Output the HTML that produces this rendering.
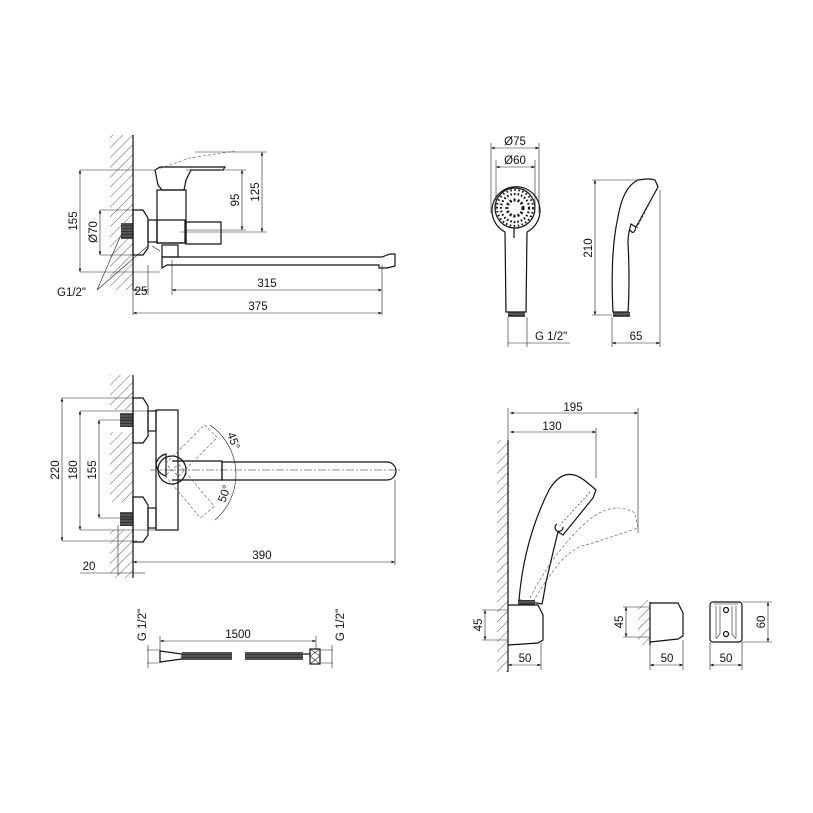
<!DOCTYPE html>
<html><head><style>
html,body{margin:0;padding:0;background:#fff;}
svg{display:block;}
text{font-family:"Liberation Sans",sans-serif;font-size:11.5px;fill:#111;}
.l{stroke:#111;stroke-width:1.2;fill:none;}
.t{stroke:#222;stroke-width:0.6;fill:none;}
.d{stroke:#555;stroke-width:0.6;fill:none;stroke-dasharray:3 2;}
</style></head><body>
<svg width="813" height="813" viewBox="0 0 813 813" xmlns="http://www.w3.org/2000/svg">
<defs>
<pattern id="h" width="7" height="7" patternUnits="userSpaceOnUse" patternTransform="rotate(45)">
<line x1="0" y1="0" x2="0" y2="7" stroke="#333" stroke-width="0.8"/></pattern>
<marker id="a" viewBox="0 0 8 6" refX="8" refY="3" markerWidth="6" markerHeight="5" orient="auto-start-reverse"><path d="M0,0L8,3L0,6z" fill="#111"/></marker>
<pattern id="th" width="3" height="3" patternUnits="userSpaceOnUse"><rect width="3" height="3" fill="#555"/><line x1="0" y1="0" x2="3" y2="0" stroke="#111" stroke-width="1"/></pattern>
</defs>

<!-- ===== Q1 faucet side ===== -->
<rect x="110" y="135" width="23" height="155" fill="url(#h)"/>
<line class="l" x1="133" y1="135" x2="133" y2="290"/>
<rect x="121" y="223" width="12" height="16" fill="url(#th)"/>
<path class="l" d="M133,210 h10 l5,8 v30 l-5,7 h-10z"/>
<rect class="l" x="148" y="220" width="9" height="22"/>
<rect class="l" x="157" y="190" width="29" height="53"/>
<path class="l" d="M157,220 h28 v23 h-28z"/>
<path class="l" d="M186,222 h35 v22 h-35z"/>
<path class="l" d="M155,170 l3,15 l4,5 h22 l2,-10 l5,-10 h32 l2,-3 h-65z"/>
<path class="d" d="M155,170 l35,-12 l45,-7"/>
<rect class="l" x="162" y="245" width="16" height="12"/>
<path class="l" d="M162,257 h220 l8,-3 h5 v12 l-8,2 h-8 v-3 h-212 l-5,3z"/>
<path class="t" d="M152,246 l8,5"/>
<!-- dims -->
<path class="t" d="M80,170 h75 M80,272 h80 M100,210 h33 M100,255 h33 M186,170 h60 M186,230 h60 M195,152 h72 M180,232 h87 M172,260 v35 M382,265 v50 M148,265 v30 M133,290 v25"/>
<line class="t" x1="80" y1="170" x2="80" y2="272" marker-start="url(#a)" marker-end="url(#a)"/>
<line class="t" x1="100" y1="210" x2="100" y2="255" marker-start="url(#a)" marker-end="url(#a)"/>
<line class="t" x1="242" y1="170" x2="242" y2="230" marker-start="url(#a)" marker-end="url(#a)"/>
<line class="t" x1="262" y1="152" x2="262" y2="232" marker-start="url(#a)" marker-end="url(#a)"/>
<line class="t" x1="172" y1="290" x2="382" y2="290" marker-start="url(#a)" marker-end="url(#a)"/>
<line class="t" x1="133" y1="290" x2="148" y2="290" marker-start="url(#a)" marker-end="url(#a)"/>
<line class="t" x1="133" y1="313" x2="382" y2="313" marker-start="url(#a)" marker-end="url(#a)"/>
<path class="t" d="M97,290 l24,-55 M97,290 l52,-45"/>
<text transform="translate(77,221) rotate(-90)" text-anchor="middle">155</text>
<text transform="translate(97,232) rotate(-90)" text-anchor="middle">Ø70</text>
<text transform="translate(239,200) rotate(-90)" text-anchor="middle">95</text>
<text transform="translate(259,192) rotate(-90)" text-anchor="middle">125</text>
<text x="267" y="287" text-anchor="middle">315</text>
<text x="141" y="295" text-anchor="middle">25</text>
<text x="258" y="310" text-anchor="middle">375</text>
<text x="57" y="296">G1/2"</text>

<!-- ===== Q2 faucet top ===== -->
<rect x="110" y="375" width="23" height="35" fill="url(#h)"/>
<rect x="110" y="432" width="23" height="70" fill="url(#h)"/>
<rect x="110" y="530" width="23" height="48" fill="url(#h)"/>
<line class="l" x1="133" y1="375" x2="133" y2="578"/>
<rect x="120" y="413" width="13" height="14" fill="url(#th)"/>
<rect x="120" y="512" width="13" height="14" fill="url(#th)"/>
<path class="l" d="M133,398 h10 l5,8 v30 l-5,7 h-10z"/>
<path class="l" d="M133,497 h10 l5,8 v30 l-5,7 h-10z"/>
<rect class="l" x="148" y="411" width="8" height="20"/>
<rect class="l" x="148" y="508" width="8" height="20"/>
<rect class="l" x="156" y="410" width="22" height="120"/>
<path class="l" d="M156,464 q2,-8 10,-10 v22 q-8,-2 -10,-12z"/>
<circle class="l" cx="172" cy="470" r="14"/>
<path class="l" d="M172,461 h50 v19 h-50"/>
<path class="l" d="M222,462 h165 a9,9 0 0 1 0,18 h-165z"/>
<g transform="rotate(-45 172 470)"><rect class="d" x="172" y="461" width="55" height="18"/></g>
<g transform="rotate(50 172 470)"><rect class="d" x="172" y="461" width="55" height="18"/></g>
<path class="t" d="M210,425 A60,60 0 0 1 215,520"/>
<path class="t" d="M150,470 h250" stroke-dasharray="8 2 2 2"/>
<path class="t" d="M62,398 h75 M80,411 h78 M99,420 h35 M99,518 h35 M80,530 h78 M62,541 h75 M395,480 v85 M118,525 v50"/>
<line class="t" x1="62" y1="398" x2="62" y2="541" marker-start="url(#a)" marker-end="url(#a)"/>
<line class="t" x1="80" y1="411" x2="80" y2="530" marker-start="url(#a)" marker-end="url(#a)"/>
<line class="t" x1="99" y1="420" x2="99" y2="518" marker-start="url(#a)" marker-end="url(#a)"/>
<line class="t" x1="133" y1="562" x2="395" y2="562" marker-start="url(#a)" marker-end="url(#a)"/>
<path class="t" d="M80,573 h53" /><line class="t" x1="133" y1="573" x2="145" y2="573"/>
<text transform="translate(59,470) rotate(-90)" text-anchor="middle">220</text>
<text transform="translate(77,470) rotate(-90)" text-anchor="middle">180</text>
<text transform="translate(96,470) rotate(-90)" text-anchor="middle">155</text>
<text transform="translate(230,442) rotate(70)" text-anchor="middle">45°</text>
<text transform="translate(228,495) rotate(-70)" text-anchor="middle">50°</text>
<text x="262" y="559" text-anchor="middle">390</text>
<text x="89" y="570" text-anchor="middle">20</text>

<!-- ===== Hose ===== -->
<path class="l" d="M160,650 v13 M160,651 l22,3 v5 l-22,3"/>
<rect x="182" y="652" width="50" height="8" fill="url(#th)"/>
<rect x="245" y="652" width="58" height="8" fill="url(#th)"/>
<path class="l" d="M303,654 h7"/>
<rect class="l" x="310" y="649" width="10" height="15"/>
<path class="t" d="M310,649 l10,7 l-10,8 M320,649 l-10,7 l10,8"/>
<path class="t" d="M147,650 h12 M147,663 h12 M321,650 h12 M321,663 h12 M160,636 v14 M316,636 v14"/>
<line class="t" x1="160" y1="641" x2="316" y2="641" marker-start="url(#a)" marker-end="url(#a)"/>
<line class="t" x1="148" y1="645" x2="148" y2="668"/>
<line class="t" x1="332" y1="645" x2="332" y2="668"/>
<text x="238" y="638" text-anchor="middle">1500</text>
<text transform="translate(146,625) rotate(-90)" text-anchor="middle">G 1/2"</text>
<text transform="translate(344,625) rotate(-90)" text-anchor="middle">G 1/2"</text>

<!-- ===== Q3 hand shower ===== -->
<path class="l" d="M506,312 l-1,-80 a24,24 0 1 1 22,0 l-1,80z"/>
<circle class="l" cx="515" cy="208" r="20"/>
<circle cx="515" cy="208" r="8" fill="none" stroke="#111" stroke-width="3" stroke-dasharray="2 2"/>
<circle cx="515" cy="208" r="14" fill="none" stroke="#111" stroke-width="2.2" stroke-dasharray="1.6 2"/>
<circle cx="515" cy="208" r="18" fill="none" stroke="#111" stroke-width="2" stroke-dasharray="1.5 2.5"/>
<path class="l" d="M514,228 v10"/>
<rect x="508" y="312" width="17" height="5" fill="url(#th)"/>
<path class="t" d="M491,143 v70 M539,143 v70 M496,160 v50 M535,160 v50 M508,317 v30 M527,317 v30 M570,346 h0"/>
<line class="t" x1="491" y1="148" x2="539" y2="148" marker-start="url(#a)" marker-end="url(#a)"/>
<line class="t" x1="496" y1="167" x2="535" y2="167" marker-start="url(#a)" marker-end="url(#a)"/>
<line class="t" x1="508" y1="343" x2="570" y2="343"/>
<text x="515" y="145" text-anchor="middle">Ø75</text>
<text x="515" y="164" text-anchor="middle">Ø60</text>
<text x="535" y="340">G 1/2"</text>
<path class="l" d="M613,312 q-3,-60 5,-95 q5,-30 20,-37 q12,-2 17,0 l3,7 l-22,40 l-5,-3 q-3,10 -3,18 q2,40 0,70z"/>
<path class="l" d="M630,230 q4,6 6,-3"/>
<path class="t" d="M652,198 l-15,30" stroke-dasharray="2 2" stroke-width="1.5"/>
<rect x="613" y="312" width="17" height="5" fill="url(#th)"/>
<path class="t" d="M592,180 h50 M592,315 h20 M612,317 v30 M660,190 v157"/>
<line class="t" x1="595" y1="180" x2="595" y2="315" marker-start="url(#a)" marker-end="url(#a)"/>
<line class="t" x1="612" y1="343" x2="660" y2="343" marker-start="url(#a)" marker-end="url(#a)"/>
<text transform="translate(592,248) rotate(-90)" text-anchor="middle">210</text>
<text x="636" y="340" text-anchor="middle">65</text>

<!-- ===== Q4 holder ===== -->
<rect x="497" y="440" width="11" height="232" fill="url(#h)"/>
<line class="l" x1="508" y1="440" x2="508" y2="672"/>
<path class="t" d="M508,408 v32 M638,408 v125 M596,428 v50"/>
<line class="t" x1="510" y1="413" x2="638" y2="413" marker-start="url(#a)" marker-end="url(#a)"/>
<line class="t" x1="510" y1="432" x2="596" y2="432" marker-start="url(#a)" marker-end="url(#a)"/>
<text x="573" y="411" text-anchor="middle">195</text>
<text x="552" y="430" text-anchor="middle">130</text>
<path class="l" d="M519,600 q5,-60 30,-110 q15,-25 35,-10 q10,8 12,10 l-3,8 l-30,37 l-5,-3 q-5,20 -12,50 q-3,18 -4,22z"/>
<path class="l" d="M557,524 a4,4 0 1 0 6,3"/>
<path class="t" d="M590,492 l-30,33" stroke-dasharray="2 2" stroke-width="1.5"/>
<path class="d" d="M530,598 q20,-40 50,-70 q30,-30 55,-15 l3,15 l-45,15 l-12,3 q-10,5 -20,15 q-20,25 -30,45"/>
<rect x="518" y="600" width="17" height="5" fill="url(#th)"/>
<path class="l" d="M508,605 h30 l5,10 v25 l-5,3 l-30,2"/>
<path class="t" d="M482,610 h26 M482,640 h26 M508,645 v25 M541,643 v27"/>
<line class="t" x1="485" y1="610" x2="485" y2="640" marker-start="url(#a)" marker-end="url(#a)"/>
<line class="t" x1="508" y1="665" x2="541" y2="665" marker-start="url(#a)" marker-end="url(#a)"/>
<text transform="translate(482,625) rotate(-90)" text-anchor="middle">45</text>
<text x="525" y="662" text-anchor="middle">50</text>
<!-- middle -->
<rect x="638" y="600" width="12" height="45" fill="url(#h)"/>
<line class="l" x1="650" y1="602" x2="650" y2="645"/>
<path class="l" d="M650,603 h28 l5,10 v23 l-5,3 l-28,3"/>
<path class="t" d="M623,607 h27 M623,637 h27 M650,645 v25 M683,640 v30"/>
<line class="t" x1="626" y1="607" x2="626" y2="637" marker-start="url(#a)" marker-end="url(#a)"/>
<line class="t" x1="650" y1="665" x2="683" y2="665" marker-start="url(#a)" marker-end="url(#a)"/>
<text transform="translate(623,622) rotate(-90)" text-anchor="middle">45</text>
<text x="667" y="662" text-anchor="middle">50</text>
<!-- right -->
<rect class="l" x="710" y="602" width="32" height="40" rx="3"/>
<path class="t" d="M716,606 v32 M720,606 v28 l-4,5 M732,606 v28 l4,5 M736,606 v32 M714,604 h24"/>
<circle class="l" cx="726" cy="610" r="2.5"/>
<circle class="l" cx="726" cy="634" r="2.5"/>
<path class="t" d="M742,602 h30 M742,642 h30 M710,642 v28 M742,642 v28"/>
<line class="t" x1="768" y1="602" x2="768" y2="642" marker-start="url(#a)" marker-end="url(#a)"/>
<line class="t" x1="710" y1="665" x2="742" y2="665" marker-start="url(#a)" marker-end="url(#a)"/>
<text transform="translate(765,622) rotate(-90)" text-anchor="middle">60</text>
<text x="726" y="662" text-anchor="middle">50</text>
</svg>
</body></html>
